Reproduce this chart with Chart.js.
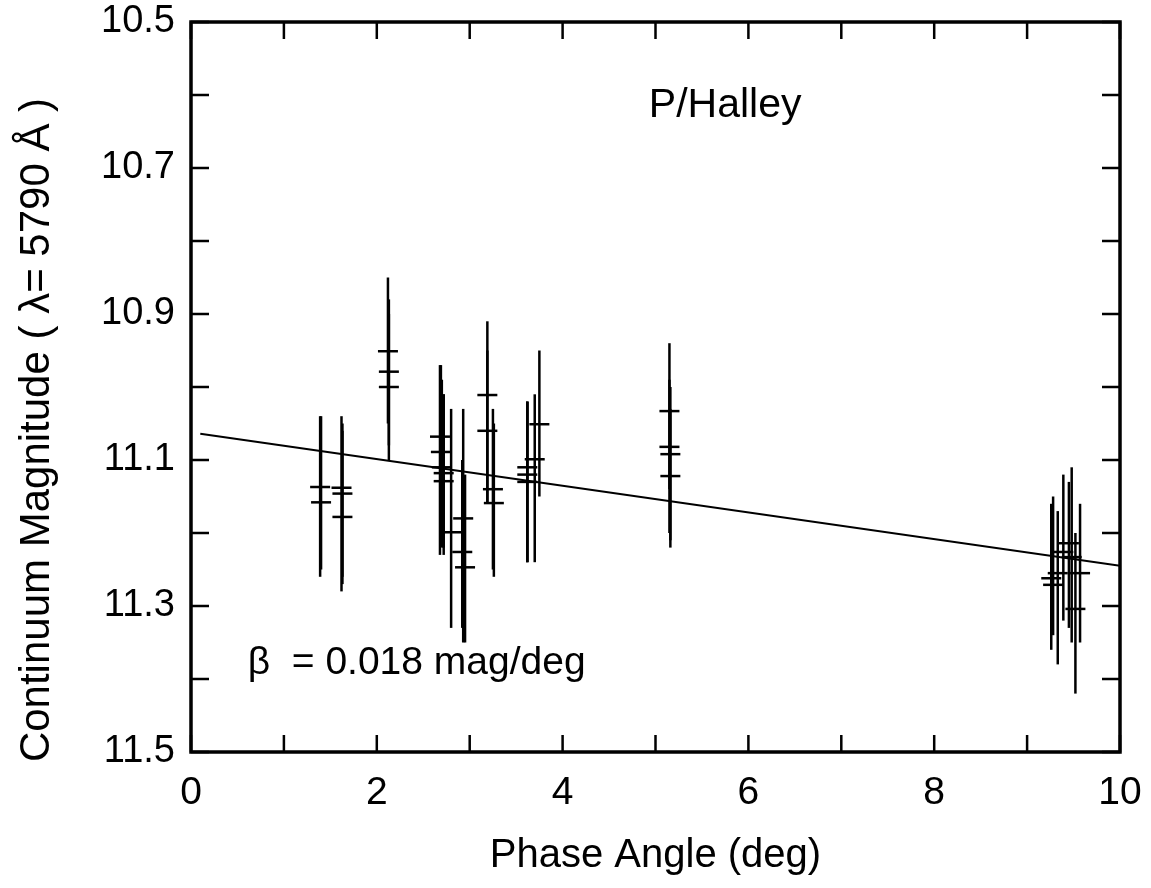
<!DOCTYPE html>
<html>
<head>
<meta charset="utf-8">
<script src="https://cdn.jsdelivr.net/npm/chart.js@4"></script>
<style>
  html, body { margin: 0; padding: 0; background: #fff; }
  #wrap { width: 1151px; height: 888px; }
</style>
</head>
<body>
<div id="wrap"><canvas id="halley"></canvas></div>
<script>
// phase angle (deg), magnitude, and error bar ends
const phase   = [1.39, 1.40, 1.62, 1.63, 1.63, 2.12, 2.13, 2.13, 2.68, 2.69, 2.70, 2.72, 2.72, 2.80, 2.93, 2.92, 2.95,
                 3.19, 3.19, 3.25, 3.26, 3.62, 3.62, 3.62, 3.70, 3.75, 5.15, 5.15, 5.16, 5.16,
                 9.26, 9.28, 9.33, 9.39, 9.45, 9.48, 9.52, 9.57];
const mag     = [11.137, 11.158, 11.138, 11.146, 11.178, 10.951, 10.979, 11.000, 11.068, 11.089, 11.110, 11.118, 11.129, 11.199, 11.180, 11.226, 11.247,
                 11.011, 11.060, 11.140, 11.159, 11.110, 11.120, 11.130, 11.099, 11.051, 11.033, 11.082, 11.092, 11.122,
                 11.262, 11.271, 11.255, 11.226, 11.214, 11.233, 11.304, 11.255];
const magTop  = [11.04, 11.04, 11.04, 11.05, 11.06, 10.85, 10.88, 10.90, 10.97, 10.97, 10.99, 11.01, 11.01, 11.03, 11.03, 11.10, 11.12,
                 10.91, 10.95, 11.03, 11.05, 11.02, 11.02, 11.02, 11.01, 10.95, 10.94, 10.99, 11.00, 11.03,
                 11.16, 11.15, 11.17, 11.12, 11.13, 11.11, 11.20, 11.16];
const magBot  = [11.26, 11.25, 11.28, 11.26, 11.27, 11.05, 11.08, 11.10, 11.23, 11.20, 11.22, 11.23, 11.22, 11.33, 11.35, 11.33, 11.35,
                 11.16, 11.16, 11.25, 11.26, 11.24, 11.24, 11.24, 11.24, 11.15, 11.14, 11.20, 11.21, 11.22,
                 11.36, 11.34, 11.38, 11.32, 11.33, 11.35, 11.42, 11.35];

// linear fit, beta = 0.018 mag/deg
const fitX = [0.1, 10];
const fitY = [11.064, 11.245];

const points = phase.map((p, i) => ({ x: p, y: mag[i], lo: magTop[i], hi: magBot[i] }));
const FONT = "'Liberation Sans', Arial, Helvetica, sans-serif";

// vertical error bars
const errorBars = {
  id: 'errorBars',
  beforeDatasetsDraw(chart) {
    const { ctx, scales: { x, y } } = chart;
    ctx.save();
    ctx.strokeStyle = '#000';
    ctx.lineWidth = 2.5;
    points.forEach(pt => {
      const px = x.getPixelForValue(pt.x);
      ctx.beginPath();
      ctx.moveTo(px, y.getPixelForValue(pt.lo));
      ctx.lineTo(px, y.getPixelForValue(pt.hi));
      ctx.stroke();
    });
    ctx.restore();
  }
};

// frame with inward ticks on all four sides, plus the texts
const frame = {
  id: 'frame',
  afterDraw(chart) {
    const { ctx, chartArea: a, scales: { x, y } } = chart;
    ctx.save();
    ctx.strokeStyle = '#000';
    ctx.lineWidth = 2.5;
    ctx.beginPath();
    x.ticks.forEach(t => {
      const px = x.getPixelForValue(t.value);
      ctx.moveTo(px, a.bottom); ctx.lineTo(px, a.bottom - 17);
      ctx.moveTo(px, a.top); ctx.lineTo(px, a.top + 17);
    });
    y.ticks.forEach(t => {
      const py = y.getPixelForValue(t.value);
      ctx.moveTo(a.left, py); ctx.lineTo(a.left + 18, py);
      ctx.moveTo(a.right, py); ctx.lineTo(a.right - 18, py);
    });
    ctx.stroke();
    ctx.lineWidth = 3.5;
    ctx.strokeRect(a.left, a.top, a.right - a.left, a.bottom - a.top);

    ctx.fillStyle = '#000';
    ctx.textBaseline = 'middle';
    ctx.font = `41px ${FONT}`;
    ctx.textAlign = 'center';
    ctx.fillText('P/Halley', x.getPixelForValue(5.75), y.getPixelForValue(10.614));
    ctx.font = `39px ${FONT}`;
    ctx.textAlign = 'left';
    ctx.fillText('\u03B2  = 0.018 mag/deg', x.getPixelForValue(0.61), y.getPixelForValue(11.379));

    // y axis title, a little below the middle of the axis as in the original
    ctx.translate(37, 430);
    ctx.rotate(-Math.PI / 2);
    ctx.font = `42px ${FONT}`;
    ctx.textAlign = 'center';
    ctx.fillText('Continuum Magnitude ( \u03BB= 5790 \u00C5 )', 0, 0);
    ctx.restore();
  }
};

new Chart(document.getElementById('halley'), {
  type: 'scatter',
  data: {
    datasets: [
      {
        data: points,
        pointStyle: 'line',
        pointRadius: 10,
        pointBorderWidth: 2.5,
        pointBorderColor: '#000',
        pointBackgroundColor: '#000'
      },
      {
        type: 'line',
        data: fitX.map((v, i) => ({ x: v, y: fitY[i] })),
        borderColor: '#000',
        borderWidth: 2,
        pointRadius: 0,
        fill: false
      }
    ]
  },
  options: {
    responsive: true,
    maintainAspectRatio: false,
    animation: false,
    layout: { padding: { top: 22, right: 31, left: 0, bottom: 0 } },
    plugins: { legend: { display: false }, tooltip: { enabled: false } },
    scales: {
      x: {
        type: 'linear',
        min: 0,
        max: 10,
        grid: { display: false, drawTicks: false },
        border: { display: false },
        ticks: {
          stepSize: 1,
          padding: 18,
          color: '#000',
          font: { family: FONT, size: 39 },
          callback: (v) => (Math.round(v) % 2 === 0 ? String(Math.round(v)) : '')
        },
        title: {
          display: true,
          text: 'Phase Angle (deg)',
          color: '#000',
          font: { family: FONT, size: 40 },
          padding: { top: 18, bottom: 8 }
        },
        afterFit: (s) => { s.height = 136; s.paddingLeft = 0; s.paddingRight = 0; }
      },
      y: {
        type: 'linear',
        reverse: true,
        min: 10.5,
        max: 11.5,
        grid: { display: false, drawTicks: false },
        border: { display: false },
        ticks: {
          stepSize: 0.1,
          padding: 16,
          color: '#000',
          font: { family: FONT, size: 38 },
          callback: (v) => {
            const k = Math.round(v * 10);
            return k % 2 === 1 ? (k / 10).toFixed(1) : '';
          }
        },
        afterFit: (s) => { s.width = 191; s.paddingTop = 0; s.paddingBottom = 0; }
      }
    }
  },
  plugins: [errorBars, frame]
});
</script>
</body>
</html>
